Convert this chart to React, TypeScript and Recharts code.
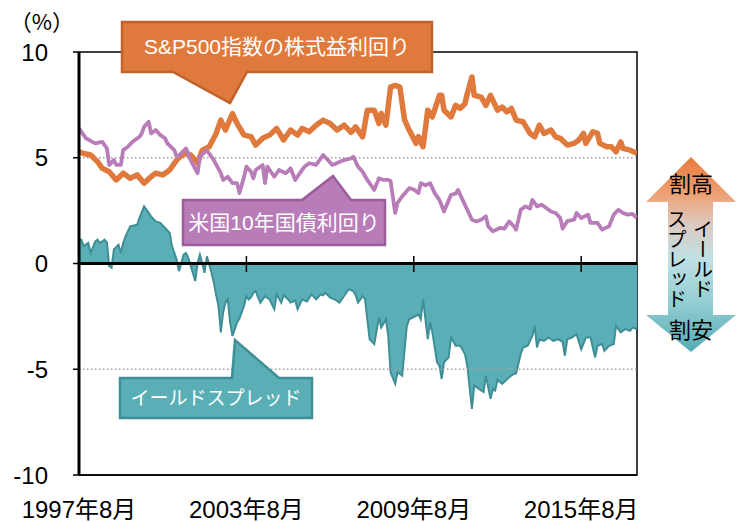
import React from 'react';
import {
  ComposedChart, Line, Area, XAxis, YAxis, ReferenceLine, ReferenceArea,
} from 'recharts';

// months counted from 1997年8月 (0) to 2017年8月 (240)
const earningsYield: [number, number][] = [
  [0,5.28],[2,5.2],[5,5.13],[8,4.81],[10,4.5],[13,4.34],[16,3.95],[19,4.27],[22,4.03],[25,4.19],[28,3.8],[31,4.1],[33,4.27],[36,4.19],[39,4.42],[42,4.89],[45,5.21],[48,5.13],[51,4.74],[53,5.36],[56,5.52],[59,6.15],[61,6.78],[63,6.31],[66,7.09],[68,6.62],[71,6.07],[74,6.0],[76,5.6],[79,5.92],[82,6.07],[85,6.39],[88,5.84],[91,6.31],[94,6.07],[96,6.39],[99,6.23],[102,6.54],[105,6.78],[108,6.62],[111,6.31],[114,6.54],[117,6.2],[119,6.46],[122,5.99],[124,7.25],[127,7.25],[129,6.62],[130,7.09],[132,6.54],[134,8.34],[136,8.42],[138,8.34],[140,6.8],[142,6.31],[145,5.68],[146,6.0],[148,5.52],[150,7.25],[152,6.93],[155,7.95],[156,7.95],[157,7.25],[160,6.93],[162,7.48],[164,7.33],[166,7.56],[167,8.03],[169,8.82],[170,7.95],[173,7.87],[175,7.48],[177,7.95],[180,7.25],[182,7.4],[184,7.17],[186,7.33],[188,6.78],[191,6.7],[194,6.15],[196,5.99],[198,6.54],[200,6.15],[203,6.31],[205,5.99],[207,5.92],[210,5.6],[213,5.68],[215,5.84],[217,6.15],[218,5.68],[221,6.23],[223,6.15],[224,5.68],[227,5.52],[229,5.52],[231,5.28],[233,5.75],[234,5.44],[237,5.36],[240,5.21],
];

const bondYield: [number, number][] = [
  [0,6.39],[3,5.92],[5,5.8],[7,5.68],[10,5.75],[12,5.44],[13,4.66],[15,4.89],[16,4.66],[18,4.66],[19,5.36],[21,5.52],[23,5.75],[26,5.99],[27,6.15],[28,6.46],[30,6.7],[31,6.15],[33,6.31],[35,6.07],[37,5.92],[38,5.68],[41,5.36],[42,5.05],[43,5.1],[46,5.44],[47,5.21],[48,4.89],[51,4.27],[52,5.05],[55,5.36],[56,5.2],[58,4.89],[61,4.27],[62,3.95],[64,4.1],[66,3.8],[68,3.8],[69,3.33],[71,4.1],[72,4.58],[74,4.34],[75,4.03],[76,4.42],[79,4.66],[80,3.8],[81,4.58],[84,4.1],[86,4.42],[89,4.27],[91,4.5],[93,3.95],[95,4.27],[97,4.58],[99,4.74],[102,4.66],[105,5.13],[107,4.9],[109,4.66],[111,4.75],[114,4.89],[117,4.97],[118,5.05],[120,4.58],[122,4.34],[124,3.95],[127,3.48],[129,4.03],[131,3.95],[133,3.95],[134,3.9],[136,2.39],[137,2.86],[139,3.17],[142,3.56],[144,3.5],[146,3.33],[147,3.8],[149,3.7],[151,3.8],[153,3.33],[155,3.01],[157,2.46],[160,3.25],[162,3.3],[163,3.48],[165,3.01],[167,2.54],[169,2.07],[171,1.99],[173,2.07],[175,2.23],[176,1.76],[178,1.52],[181,1.68],[183,1.65],[185,1.99],[187,1.76],[188,1.6],[190,2.54],[192,2.7],[194,2.6],[195,3.01],[197,2.7],[199,2.78],[201,2.62],[203,2.46],[205,2.39],[207,2.15],[208,1.65],[210,2.0],[213,2.07],[214,2.39],[216,2.15],[219,2.31],[220,1.92],[223,1.92],[225,1.6],[228,1.76],[230,2.31],[232,2.54],[234,2.39],[236,2.31],[238,2.35],[240,2.15],
];

const yieldSpread: [number, number][] = [
  [0,1.1],[1,1.13],[2,0.82],[4,0.97],[5,0.5],[7,1.05],[8,1.13],[9,0.97],[11,1.13],[12,1.0],[13,-0.13],[14,-0.2],[15,0.66],[17,0.89],[18,0.5],[19,0.97],[20,1.28],[22,1.76],[25,1.83],[26,2.15],[28,2.7],[30,2.39],[31,2.23],[33,1.99],[35,1.92],[37,1.68],[39,1.44],[40,0.82],[42,0.19],[43,-0.36],[45,0.42],[46,0.5],[47,0.27],[50,-0.83],[51,0.03],[52,0.42],[54,-0.44],[55,0.34],[57,-0.44],[58,-0.91],[59,-1.5],[60,-2.0],[61,-3.26],[62,-2.3],[63,-1.85],[64,-1.69],[65,-2.79],[66,-3.42],[67,-3.1],[68,-2.79],[69,-2.6],[70,-2.3],[71,-2.0],[72,-1.54],[73,-1.7],[74,-1.6],[75,-1.38],[76,-1.3],[77,-1.6],[78,-1.85],[80,-1.54],[82,-1.7],[84,-2.16],[85,-1.46],[87,-1.85],[88,-1.5],[90,-1.7],[91,-1.85],[93,-1.75],[94,-2.16],[96,-1.69],[98,-1.8],[100,-1.46],[102,-1.69],[104,-1.46],[105,-1.5],[106,-1.38],[108,-1.61],[110,-1.7],[112,-1.85],[113,-1.7],[116,-1.22],[118,-1.3],[119,-1.5],[120,-1.85],[122,-1.54],[123,-1.69],[125,-3.58],[127,-3.81],[129,-2.55],[130,-3.03],[132,-2.64],[133,-3.42],[134,-5.14],[136,-5.69],[137,-5.14],[139,-5.3],[141,-2.95],[142,-2.64],[145,-2.48],[146,-2.4],[147,-2.64],[148,-1.69],[150,-3.58],[151,-2.79],[152,-3.26],[154,-4.67],[155,-4.83],[156,-5.46],[157,-4.67],[159,-4.44],[160,-3.5],[162,-3.89],[164,-3.89],[166,-4.28],[167,-4.83],[169,-6.87],[170,-5.77],[172,-5.93],[174,-6.08],[175,-5.3],[177,-6.4],[178,-5.93],[179,-6.01],[180,-5.5],[182,-5.69],[185,-5.38],[187,-5.22],[188,-5.2],[190,-4.28],[191,-3.97],[193,-3.89],[195,-3.42],[196,-2.95],[197,-3.97],[198,-3.58],[200,-3.66],[202,-3.5],[204,-3.66],[206,-3.58],[208,-3.7],[209,-4.36],[210,-3.58],[212,-3.5],[214,-3.34],[216,-4.05],[218,-3.5],[220,-3.5],[222,-4.44],[223,-3.89],[225,-3.81],[226,-4.13],[228,-3.89],[230,-3.81],[231,-2.95],[233,-3.26],[235,-3.1],[237,-3.18],[238,-3.03],[240,-3.1],
];

const xTicks = [0, 72, 144, 216];
const xTickLabels = ['1997年8月', '2003年8月', '2009年8月', '2015年8月'];
const yTicks = [-10, -5, 0, 5, 10];

const labelEY = 'S&P500指数の株式益利回り';
const labelBond = '米国10年国債利回り';
const labelSpread = 'イールドスプレッド';

// merge into one table keyed by month
const monthSet = new Set<number>();
[earningsYield, bondYield, yieldSpread].forEach((s) => s.forEach(([m]) => monthSet.add(m)));
const rows = Array.from(monthSet).sort((a, b) => a - b).map((m) => {
  const row: any = { m };
  const e = earningsYield.find((p) => p[0] === m);
  const b = bondYield.find((p) => p[0] === m);
  const s = yieldSpread.find((p) => p[0] === m);
  if (e) row.ey = e[1];
  if (b) row.bond = b[1];
  if (s) row.spread = s[1];
  return row;
});

const FONT = "'Liberation Sans', Arial, 'Noto Sans CJK JP', sans-serif";
const CJK = "'Noto Sans CJK JP', sans-serif";

const ORANGE = '#E07A3C';
const PURPLE = '#B87CB8';
const TEAL = '#5AAFB7';
const TEAL_DARK = '#3F8E96';

export default function App() {
  return (
    <div style={{ position: 'absolute', left: 0, top: 0, width: 737, height: 522, background: '#fff' }}>
      <ComposedChart
        width={737}
        height={522}
        data={rows}
        margin={{ top: 52, right: 100, bottom: 0, left: 0 }}
      >
        <XAxis
          dataKey="m"
          type="number"
          domain={[0, 240]}
          ticks={xTicks}
          tickFormatter={(v: number) => xTickLabels[xTicks.indexOf(v)] ?? ''}
          height={47}
          axisLine={{ stroke: '#000', strokeWidth: 1.5 }}
          tickLine={false}
          tickSize={0}
          tickMargin={26}
          tick={{ fill: '#000', fontSize: 24, fontFamily: FONT }}
          interval={0}
          allowDataOverflow
        />
        <YAxis
          type="number"
          domain={[-10, 10]}
          ticks={yTicks}
          width={79}
          axisLine={{ stroke: '#000', strokeWidth: 3 }}
          tickLine={{ stroke: '#000', strokeWidth: 1.5 }}
          tickSize={6}
          tickMargin={25}
          tick={{ fill: '#000', fontSize: 24, fontFamily: FONT }}
          interval={0}
          allowDataOverflow
        />
        <ReferenceArea x1={0} x2={240} y1={-10} y2={10} fill="none" stroke="#000" strokeWidth={1.5} ifOverflow="visible" />
        <ReferenceLine y={5} stroke="#a0a0a0" strokeWidth={1.5} strokeDasharray="1.5 2.5" />
        <ReferenceLine y={-5} stroke="#a0a0a0" strokeWidth={1.5} strokeDasharray="1.5 2.5" />
        <Area
          dataKey="spread"
          type="linear"
          baseValue={0}
          fill={TEAL}
          fillOpacity={1}
          stroke={TEAL_DARK}
          strokeWidth={2}
          connectNulls
          dot={false}
          activeDot={false}
          isAnimationActive={false}
        />
        <Line
          dataKey="ey"
          type="linear"
          stroke={ORANGE}
          strokeWidth={5.5}
          strokeLinejoin="round"
          connectNulls
          dot={false}
          activeDot={false}
          isAnimationActive={false}
        />
        <Line
          dataKey="bond"
          type="linear"
          stroke={PURPLE}
          strokeWidth={3.8}
          strokeLinejoin="round"
          connectNulls
          dot={false}
          activeDot={false}
          isAnimationActive={false}
        />
        <ReferenceLine y={0} stroke="#000" strokeWidth={3} />
        {xTicks.slice(1).map((t) => (
          <ReferenceLine
            key={t}
            segment={[{ x: t, y: -0.4 }, { x: t, y: 0.35 }]}
            stroke="#000"
            strokeWidth={1.5}
          />
        ))}
      </ComposedChart>

      <svg
        width={737}
        height={522}
        style={{ position: 'absolute', left: 0, top: 0, pointerEvents: 'none' }}
      >
        <defs>
          <linearGradient id="arrowGrad" x1="0" y1="0" x2="0" y2="1">
            <stop offset="0%" stopColor="#E8793A" />
            <stop offset="18%" stopColor="#EE9E72" />
            <stop offset="35%" stopColor="#DCCBC0" />
            <stop offset="52%" stopColor="#BFE1E4" />
            <stop offset="75%" stopColor="#92CDD3" />
            <stop offset="100%" stopColor="#55ABB4" />
          </linearGradient>
        </defs>

        <text x={42} y={30} textAnchor="middle" fontSize={22} fontFamily={CJK} fill="#000">（%）</text>

        {/* orange callout */}
        <path
          d="M122,22 L432,22 L432,72 L247,72 L230,103 L173,72 L122,72 Z"
          fill={ORANGE}
          stroke="#C0622C"
          strokeWidth={2.5}
          strokeLinejoin="miter"
        />
        <text x={277} y={54} textAnchor="middle" fontSize={21} fontFamily={FONT} fill="#fff">{labelEY}</text>

        {/* purple callout */}
        <path
          d="M183,200 L302,200 L333,176 L351,200 L385,200 L385,245 L183,245 Z"
          fill={PURPLE}
          stroke="#9A5C9A"
          strokeWidth={2.5}
        />
        <text x={284} y={230} textAnchor="middle" fontSize={21} fontFamily={FONT} fill="#fff">{labelBond}</text>

        {/* teal callout */}
        <path
          d="M120,378 L232,378 L235,340 L279,378 L312,378 L312,418 L120,418 Z"
          fill={TEAL}
          stroke={TEAL_DARK}
          strokeWidth={2.5}
        />
        <text x={216} y={405} textAnchor="middle" fontSize={19} fontFamily={CJK} fill="#fff">{labelSpread}</text>

        {/* right double arrow */}
        <path
          d="M691,157 L736,202 L713,202 L713,315 L736,315 L691,352 L646,315 L668,315 L668,202 L646,202 Z"
          fill="url(#arrowGrad)"
        />
        <text x={691} y={192} textAnchor="middle" fontSize={22} fontFamily={CJK} fill="#000">割高</text>
        <text x={691} y={338} textAnchor="middle" fontSize={22} fontFamily={CJK} fill="#000">割安</text>
        <text x={703} y={259} textAnchor="middle" fontSize={20} fontFamily={CJK} fill="#000" style={{ writingMode: 'vertical-rl' as any }}>イールド</text>
        <text x={677} y={259} textAnchor="middle" fontSize={20} fontFamily={CJK} fill="#000" style={{ writingMode: 'vertical-rl' as any }}>スプレッド</text>
      </svg>
    </div>
  );
}
